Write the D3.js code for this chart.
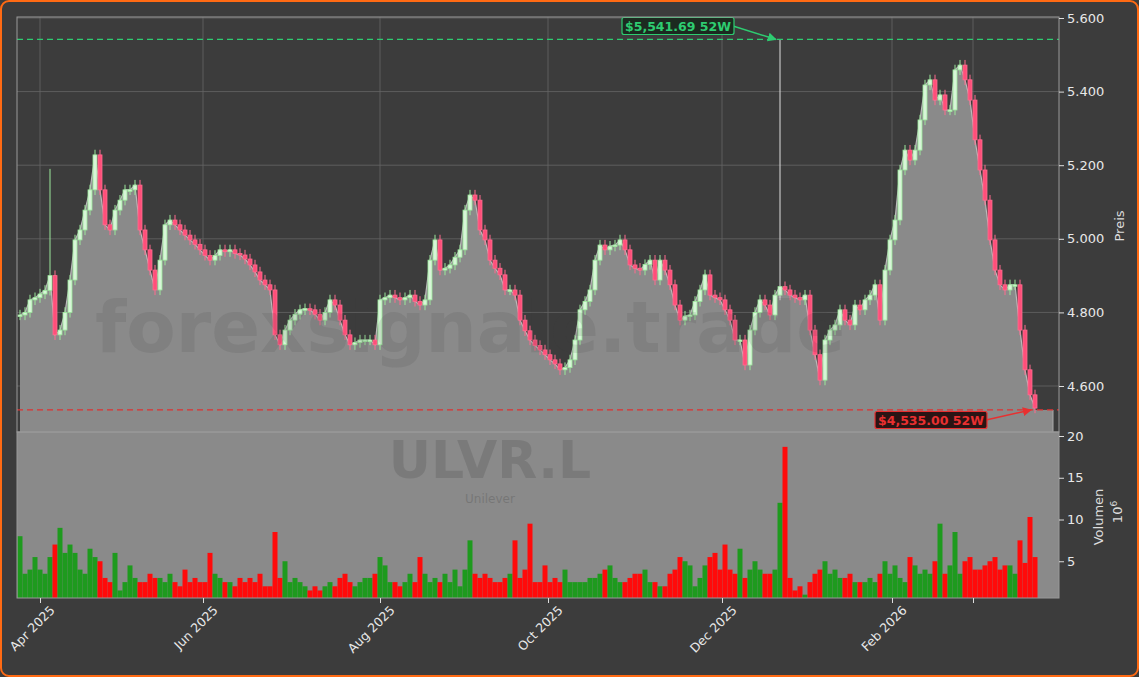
<!DOCTYPE html><html><head><meta charset="utf-8">
<script src="https://cdn.jsdelivr.net/npm/d3@7"></script>
<style>body{margin:0;background:#3c3c3c;font-family:"DejaVu Sans",sans-serif}</style></head><body>
<svg id="c" width="1139" height="677"></svg>
<script>
const closes=[4793,4800,4834,4840,4850,4860,4900,4739,4752,4800,4888,4997,5024,5078,5133,5228,5133,5038,5024,5078,5105,5133,5133,5146,5024,4970,4915,4861,4942,5038,5051,5038,5024,5010,4997,4985,4970,4955,4942,4955,4970,4965,4970,4960,4956,4945,4929,4910,4888,4875,4861,4739,4712,4752,4779,4795,4807,4810,4807,4795,4779,4800,4834,4820,4779,4739,4712,4718,4725,4725,4725,4712,4834,4840,4847,4840,4834,4840,4847,4830,4820,4834,4942,4997,4915,4920,4929,4950,4970,5078,5119,5105,5024,4997,4942,4920,4902,4861,4861,4847,4779,4750,4725,4710,4698,4685,4671,4660,4644,4650,4671,4725,4807,4830,4861,4942,4983,4970,4980,4983,4997,4970,4929,4920,4915,4930,4942,4888,4942,4915,4875,4820,4779,4790,4793,4830,4861,4902,4847,4840,4834,4807,4779,4725,4725,4657,4752,4800,4834,4820,4793,4847,4870,4861,4847,4840,4834,4847,4752,4685,4616,4725,4752,4766,4807,4779,4766,4820,4807,4834,4847,4875,4779,4915,4997,5051,5187,5241,5214,5241,5323,5418,5432,5377,5391,5350,5350,5459,5472,5432,5377,5269,5187,5105,4997,4915,4875,4861,4875,4875,4752,4644,4576,4540];
const volumes=[8,3.5,4,5.5,4,3.5,5.5,7,9,6,7,6,4,3.5,6.5,5.5,5,3,2.5,6,1.5,2.5,4.5,3,2.5,2.5,3.5,3,3,2.5,3.5,2.5,2,4,2.5,3,2.5,2.5,6,3.5,3,2.5,2.5,2,3,2.5,3,2.5,3.5,2,2,8.5,3,5,2.5,3,2.5,2,1.5,2,1.5,2,2.5,2,3,3.5,2.5,2,2.5,3,3,3.5,5.5,4.5,2.5,2.5,2,2.5,3.5,2.5,5.5,3.5,2.5,3,2.5,3.5,2.5,4,2,4,7.5,3.5,3,3.5,3,2.5,2.5,3,3.5,7.5,3,4,9.5,2.5,2.5,4.5,2.5,3,2.5,4,2.5,2.5,2.5,2.5,3,3,3.5,4,4.5,3,2.5,2.5,3,3.5,3.5,4,2.5,2.5,2,2,3.5,4,5.5,5,4.5,2,3,4.5,5.5,6,4,7,4,3.5,6.5,3,4,5,4,3.5,3.5,4,12,18.7,3,1.5,2,1,2.5,3.5,4,5,3.5,4,3,3,3.5,2.5,2.5,2.5,3,2.5,3.5,5,3.5,4.5,3,2.5,5.5,4.5,3.5,4,3.5,5,9.5,3.5,4.5,8.5,3.5,5,5.5,4,4,4.5,5,5.5,4,4.5,4.5,3.5,7.5,4.8,10.3,5.5];
const tickIdx=[4,36.6,72,105.6,140.4,174.4,190.6];
const tickLabels=["Apr 2025","Jun 2025","Aug 2025","Oct 2025","Dec 2025","Feb 2026",""];
const priceTicks=[4600,4800,5000,5200,5400,5600];
const volTicks=[5,10,15,20];
const high52=5541.69, low52=4535.00, highIdx=152, lowIdx=203;

const svg=d3.select("#c");
const L=17,R=1059,PT=17,PB=432,VB=598;
svg.append("rect").attr("x",1).attr("y",1).attr("width",1137).attr("height",675).attr("rx",8).attr("fill","#3c3c3c").attr("stroke","#ff6a13").attr("stroke-width",2);
const n=closes.length;
const x=d3.scaleLinear().domain([0,n-1]).range([20,1035]);
const y=d3.scaleLinear().domain([4475,5600]).range([PB,18]);
const yv=d3.scaleLinear().domain([0,20]).range([603,436]);
const opens=closes.map((c,i)=>i?closes[i-1]:c);
svg.append("defs").append("clipPath").attr("id","pc").append("rect").attr("x",L).attr("y",PT).attr("width",R-L).attr("height",PB-PT);
svg.append("clipPath").attr("id","vc").append("rect").attr("x",L).attr("y",PB).attr("width",R-L).attr("height",VB-PB);
const g=svg.append("g");
priceTicks.forEach(t=>g.append("line").attr("x1",L).attr("x2",R).attr("y1",y(t)).attr("y2",y(t)).attr("stroke","#666").attr("stroke-width",0.8));
tickIdx.forEach(t=>g.append("line").attr("x1",x(t)).attr("x2",x(t)).attr("y1",PT).attr("y2",PB).attr("stroke","#666").attr("stroke-width",0.8));
const pg=svg.append("g").attr("clip-path","url(#pc)");
pg.append("path").datum(closes).attr("d",d3.area().x((d,i)=>x(i)).y0(PB).y1(d=>y(d))).attr("fill","#8a8a8a");
pg.append("path").datum(closes).attr("d",d3.line().x((d,i)=>x(i)).y(d=>y(d))).attr("fill","none").attr("stroke","#bbb").attr("stroke-width",1.2);
pg.append("rect").attr("x",x(n-1)).attr("y",y(low52)).attr("width",18).attr("height",PB-y(low52)).attr("fill","#8a8a8a");
pg.append("line").attr("x1",x(n-1)+18).attr("x2",x(n-1)+18).attr("y1",y(low52)).attr("y2",PB).attr("stroke","#aaa");
svg.append("text").attr("x",470).attr("y",352).attr("text-anchor","middle").attr("font-size",72).attr("font-weight","bold").attr("fill","rgba(60,60,60,0.13)").text("forexsignale.trade");
closes.forEach((c,i)=>{const o=opens[i],up=c>=o;
 let hi=Math.max(o,c)+14,lo=Math.min(o,c)-14;
 if(i===highIdx)hi=high52; if(i===6)hi=5190;
 const col=up?"#9be89b":"#ff6b8e";
 pg.append("line").attr("x1",x(i)).attr("x2",x(i)).attr("y1",y(hi)).attr("y2",y(lo)).attr("stroke",i===highIdx?"#ddd":col).attr("stroke-width",1);
 const top=y(Math.max(o,c)),h=Math.max(1.5,y(Math.min(o,c))-top);
 pg.append("rect").attr("x",x(i)-2).attr("y",top).attr("width",4).attr("height",h).attr("fill",up?"#d8f5d8":"#ff4f7a").attr("stroke",col).attr("stroke-width",0.8);
});
svg.append("line").attr("x1",L).attr("x2",R).attr("y1",y(high52)).attr("y2",y(high52)).attr("stroke","#2ecc71").attr("stroke-dasharray","6,4").attr("stroke-width",1.3);
svg.append("line").attr("x1",L).attr("x2",R).attr("y1",y(low52)).attr("y2",y(low52)).attr("stroke","#e03030").attr("stroke-dasharray","6,4").attr("stroke-width",1.3);
const mk=svg.append("defs");
[["ag","#2ecc71"],["ar","#e83030"]].forEach(([id,c])=>mk.append("marker").attr("id",id).attr("viewBox","0 0 10 10").attr("refX",9).attr("refY",5).attr("markerWidth",6).attr("markerHeight",6).attr("orient","auto").append("path").attr("d","M0,0L10,5L0,10z").attr("fill",c));
function label(txt,cx,cy,c,bg,tx,ty,arrow){
 svg.append("line").attr("x1",cx+55).attr("y1",cy).attr("x2",tx).attr("y2",ty).attr("stroke",c).attr("stroke-width",1.5).attr("marker-end","url(#"+arrow+")");
 svg.append("rect").attr("x",cx-56).attr("y",cy-8.5).attr("width",112).attr("height",17).attr("rx",2).attr("fill",bg).attr("stroke",c).attr("stroke-width",1.2);
 svg.append("text").attr("x",cx).attr("y",cy+4.5).attr("text-anchor","middle").attr("font-size",12.5).attr("font-weight","bold").attr("fill",c).text(txt);
}
label("$5,541.69 52W",678,26,"#2ecc71","#1c2a20",x(highIdx)-4,y(high52),"ag");
label("$4,535.00 52W",931,420,"#e83030","#2a1414",x(lowIdx)-4,y(low52),"ar");
svg.append("rect").attr("x",L).attr("y",PB).attr("width",R-L).attr("height",VB-PB).attr("fill","#8a8a8a");
svg.append("text").attr("x",490).attr("y",478).attr("text-anchor","middle").attr("font-size",52).attr("font-weight","bold").attr("fill","rgba(110,110,110,0.55)").text("ULVR.L");
svg.append("text").attr("x",490).attr("y",503).attr("text-anchor","middle").attr("font-size",12).attr("fill","rgba(110,110,110,0.7)").text("Unilever");
const vg=svg.append("g").attr("clip-path","url(#vc)");
volumes.forEach((v,i)=>vg.append("rect").attr("x",x(i)-2.5).attr("width",5).attr("y",yv(v)).attr("height",603-yv(v)).attr("fill",closes[i]>=opens[i]?"#1e9a1e":"#ff0a0a"));
svg.append("rect").attr("x",L).attr("y",PT).attr("width",R-L).attr("height",PB-PT).attr("fill","none").attr("stroke","#999");
svg.append("rect").attr("x",L).attr("y",PB).attr("width",R-L).attr("height",VB-PB).attr("fill","none").attr("stroke","#999");
const ax=svg.append("g").attr("transform",`translate(${R},0)`).call(d3.axisRight(y).tickValues(priceTicks).tickFormat(d=>d3.format(".3f")(d/1000)).tickSize(5));
const av=svg.append("g").attr("transform",`translate(${R},0)`).call(d3.axisRight(yv).tickValues(volTicks).tickSize(5));
const axb=svg.append("g").attr("transform",`translate(0,${VB})`).call(d3.axisBottom(x).tickValues(tickIdx).tickFormat((d,i)=>tickLabels[i]).tickSize(5));
[ax,av,axb].forEach(a=>{a.select(".domain").remove();a.selectAll("line").attr("stroke","#ddd");a.selectAll("text").attr("fill","#e8e8e8").attr("font-size",13).attr("font-family","DejaVu Sans");});
axb.selectAll("text").attr("font-size",12.5).attr("text-anchor","end").attr("x",0).attr("y",0).attr("dy","0.35em").attr("transform","translate(12,10) rotate(-45)");
svg.append("text").attr("transform","translate(1124,226) rotate(-90)").attr("text-anchor","middle").attr("font-size",13).attr("fill","#ddd").text("Preis");
svg.append("text").attr("transform","translate(1103,517) rotate(-90)").attr("text-anchor","middle").attr("font-size",13).attr("fill","#ddd").text("Volumen");
const e=svg.append("text").attr("transform","translate(1122,512) rotate(-90)").attr("text-anchor","middle").attr("font-size",13).attr("fill","#ddd");
e.append("tspan").text("10");e.append("tspan").attr("dy",-5).attr("font-size",9).text("6");
</script></body></html>
